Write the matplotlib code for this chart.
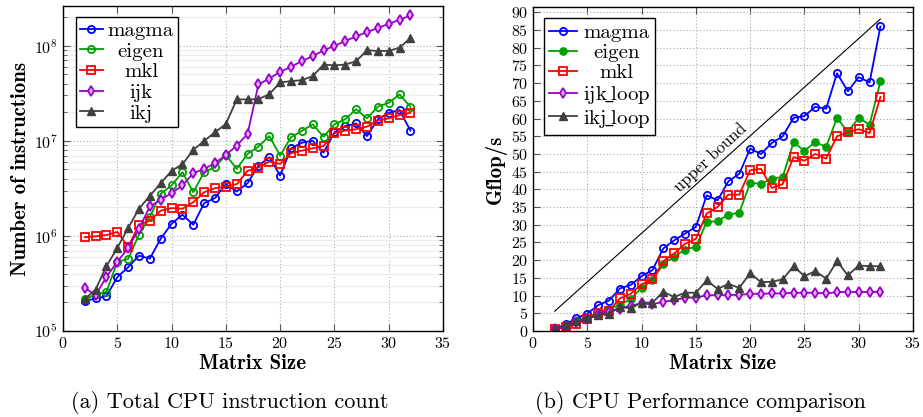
import matplotlib.pyplot as plt
import numpy as np
from matplotlib.ticker import LogLocator, MultipleLocator, NullFormatter

plt.rcParams['font.family'] = ['cmr10', 'DejaVu Serif']
plt.rcParams['mathtext.fontset'] = 'cm'
plt.rcParams['axes.formatter.use_mathtext'] = True
plt.rcParams['axes.unicode_minus'] = False

# datos
tamanos = list(range(2, 33))

# (a) instrucciones
inst_magma = [2.06e5, 2.2e5, 2.33e5, 3.68e5, 4.69e5, 6.2e5, 5.77e5, 9.35e5, 1.34e6, 1.67e6,
              1.31e6, 2.21e6, 2.5e6, 3.5e6, 2.93e6, 3.58e6, 5.48e6, 6.7e6, 4.31e6, 8.3e6,
              9.55e6, 1.0e7, 7.5e6, 1.23e7, 1.43e7, 1.52e7, 1.12e7, 1.68e7, 1.97e7, 2.1e7, 1.28e7]
inst_eigen = [2.15e5, 2.42e5, 2.58e5, 5.33e5, 5.73e5, 1.03e6, 1.58e6, 2.77e6, 3.39e6, 4.68e6,
              2.88e6, 4.68e6, 5.28e6, 7.1e6, 5.07e6, 7.27e6, 8.68e6, 1.12e7, 6.98e6, 1.09e7,
              1.27e7, 1.49e7, 1.1e7, 1.49e7, 1.69e7, 2.14e7, 1.72e7, 2.28e7, 2.51e7, 3.07e7, 2.28e7]
inst_mkl = [9.7e5, 9.9e5, 1.02e6, 1.1e6, 7.65e5, 1.31e6, 1.45e6, 1.84e6, 1.96e6, 1.93e6,
            2.26e6, 2.88e6, 3.17e6, 3.3e6, 3.5e6, 4.83e6, 5.23e6, 6.04e6, 5.71e6, 7.39e6,
            7.88e6, 8.34e6, 8.82e6, 1.2e7, 1.28e7, 1.32e7, 1.41e7, 1.63e7, 1.72e7, 1.86e7, 1.97e7]
inst_ijk = [2.85e5, 2.37e5, 3.71e5, 5.33e5, 7.47e5, 1.19e6, 2.04e6, 2.4e6, 2.82e6, 3.39e6,
            4.56e6, 5.07e6, 5.81e6, 7.1e6, 8.89e6, 1.18e7, 3.91e7, 4.51e7, 5.3e7, 5.98e7,
            6.91e7, 7.74e7, 8.94e7, 9.93e7, 1.12e8, 1.25e8, 1.39e8, 1.53e8, 1.7e8, 1.87e8, 2.08e8]
inst_ikj = [2.15e5, 2.73e5, 4.8e5, 7.47e5, 1.21e6, 1.93e6, 2.64e6, 3.58e6, 4.83e6, 5.67e6,
            8.02e6, 9.96e6, 1.23e7, 1.5e7, 2.72e7, 2.72e7, 2.74e7, 3.09e7, 4.1e7, 4.24e7,
            4.34e7, 4.78e7, 6.33e7, 6.2e7, 6.33e7, 6.86e7, 8.94e7, 8.8e7, 8.8e7, 9.53e7, 1.2e8]

# (b) rendimiento
gf_magma = [0.5, 1.9, 3.6, 4.9, 7.3, 8.6, 12.0, 13.0, 15.5, 17.2, 23.3, 25.6, 27.5, 29.4, 38.3, 36.9,
            42.3, 44.4, 51.5, 50.0, 53.1, 55.0, 60.2, 60.7, 63.3, 62.8, 72.8, 67.7, 71.7, 70.2, 86.0]
gf_eigen = [0.5, 1.6, 2.8, 3.9, 5.2, 6.3, 7.3, 9.1, 12.2, 14.3, 19.0, 20.9, 23.0, 23.8, 30.8, 31.0,
            32.9, 33.4, 41.8, 41.6, 43.0, 43.5, 53.3, 50.9, 53.3, 52.0, 60.2, 56.2, 60.2, 58.3, 70.5]
gf_mkl = [0.5, 1.1, 2.1, 3.3, 5.2, 5.6, 9.2, 10.5, 13.2, 14.6, 19.7, 21.9, 24.6, 26.0, 33.2, 35.0,
          38.5, 38.5, 45.4, 45.8, 40.4, 41.5, 49.1, 48.1, 50.0, 48.7, 55.0, 56.1, 57.0, 55.9, 66.1]
gf_ijk = [0.5, 1.2, 2.5, 3.3, 4.7, 5.5, 6.3, 7.2, 7.8, 7.5, 8.3, 8.7, 9.4, 9.4, 10.1, 10.1,
          10.2, 10.2, 10.5, 10.5, 10.6, 10.6, 10.8, 10.8, 10.8, 10.6, 11.0, 11.0, 11.0, 11.0, 11.1]
gf_ikj = [0.7, 1.7, 2.8, 3.6, 4.5, 4.9, 6.8, 6.4, 8.0, 8.0, 11.1, 9.6, 10.8, 10.8, 14.3, 11.9,
          13.3, 12.2, 16.3, 13.8, 13.9, 14.6, 18.3, 15.5, 16.9, 14.8, 19.7, 15.7, 18.5, 18.3, 18.3]

cota_x = [2, 32]
cota_y = [5.6, 88.1]

azul = '#0000ff'
verde = '#00a000'
rojo = '#ff0000'
morado = '#9900cc'
gris = '#404040'


def centrar_leyenda(fig, leg):
    fig.canvas.draw()
    rend = fig.canvas.get_renderer()
    textos = leg.get_texts()
    anchos = [t.get_window_extent(rend).width for t in textos]
    maximo = max(anchos)
    for t, w in zip(textos, anchos):
        t.set_position(((maximo - w) / 2.0, 0))


def estilo_ejes(ax):
    ax.tick_params(which='both', direction='in', top=True, right=True, labelsize=11.5,
                   color='#555555')
    ax.tick_params(which='major', length=5)
    ax.tick_params(which='minor', length=3)
    ax.set_xlim(0, 35)
    ax.xaxis.set_major_locator(MultipleLocator(5))
    ax.grid(True, which='major', linestyle=(0, (1, 2)), color='#aaaaaa', linewidth=0.8)
    ax.set_xlabel('Matrix Size', fontsize=15, fontfamily='cmb10', labelpad=2)
    for s in ax.spines.values():
        s.set_linewidth(1.0)
    ax.set_axisbelow(True)


fig = plt.figure(figsize=(9.23, 4.17), dpi=100)
ax1 = fig.add_axes([63 / 923, 1 - 331 / 417, 380 / 923, 325 / 417])
ax2 = fig.add_axes([533 / 923, 1 - 331 / 417, 380 / 923, 324 / 417])

lw = 1.3
ms = 5.2

# grafico (a)
ax1.set_yscale('log')
ax1.plot(tamanos, inst_magma, '-o', color=azul, mfc='none', mew=1.3, ms=ms, lw=lw, label='magma')
ax1.plot(tamanos, inst_eigen, '-o', color=verde, mfc='none', mew=1.3, ms=ms, lw=lw, label='eigen')
ax1.plot(tamanos, inst_mkl, '-s', color=rojo, mfc='none', mew=1.3, ms=ms, lw=lw, label='mkl')
ax1.plot(tamanos, inst_ijk, '-d', color=morado, mfc='#e0b0f0', mew=1.3, ms=ms, lw=lw, label='ijk')
ax1.plot(tamanos, inst_ikj, '-^', color=gris, mfc=gris, mew=1.0, ms=ms, lw=lw, label='ikj')
estilo_ejes(ax1)
ax1.set_ylim(1e5, 10 ** 8.417)
ax1.yaxis.set_major_locator(LogLocator(base=10, numticks=10))
ax1.yaxis.set_minor_locator(LogLocator(base=10, subs=np.arange(2, 10), numticks=20))
ax1.yaxis.set_minor_formatter(NullFormatter())
ax1.grid(True, which='minor', axis='y', linestyle='-', color='#ececec', linewidth=0.8)
ax1.set_ylabel('Number of instructions', fontsize=15, fontfamily='cmb10', labelpad=3)
leg1 = ax1.legend(loc='upper left', bbox_to_anchor=(0.033, 0.965), fontsize=15,
                  fancybox=False, edgecolor='black', framealpha=1, borderpad=0.2,
                  labelspacing=0.1, handlelength=1.1, handletextpad=0.25, borderaxespad=0)
leg1.get_frame().set_linewidth(1.0)

# grafico (b)
ax2.plot(tamanos, gf_magma, '-o', color=azul, mfc='none', mew=1.3, ms=ms, lw=lw, label='magma')
ax2.plot(tamanos, gf_eigen, '-o', color=verde, mfc=verde, mew=1.0, ms=ms, lw=lw, label='eigen')
ax2.plot(tamanos, gf_mkl, '-s', color=rojo, mfc='none', mew=1.3, ms=ms, lw=lw, label='mkl')
ax2.plot(tamanos, gf_ijk, '-d', color=morado, mfc='#e0b0f0', mew=1.3, ms=ms, lw=lw,
         label=r'ijk$\!\_\!$loop')
ax2.plot(tamanos, gf_ikj, '-^', color=gris, mfc=gris, mew=1.0, ms=ms, lw=lw,
         label=r'ikj$\!\_\!$loop')
ax2.plot(cota_x, cota_y, color='black', lw=0.8)
ax2.text(16.3, 49.0, 'upper bound', rotation=43, fontsize=12, ha='center', va='center',
         rotation_mode='anchor')
estilo_ejes(ax2)
ax2.set_ylim(0, 91.5)
ax2.yaxis.set_major_locator(MultipleLocator(5))
ax2.set_ylabel('Gflop/s', fontsize=15, fontfamily='cmb10', labelpad=3)
leg2 = ax2.legend(loc='upper left', bbox_to_anchor=(0.029, 0.966), fontsize=15,
                  fancybox=False, edgecolor='black', framealpha=1, borderpad=0.25,
                  labelspacing=0.08, handlelength=1.35, handletextpad=0.25, borderaxespad=0)
leg2.get_frame().set_linewidth(1.0)

fig.text(230 / 923, 1 - 402 / 417, '(a) Total CPU instruction count', fontsize=16,
         ha='center', va='center')
fig.text(700 / 923, 1 - 402 / 417, '(b) CPU Performance comparison', fontsize=16,
         ha='center', va='center')

centrar_leyenda(fig, leg1)
centrar_leyenda(fig, leg2)

plt.savefig('out.png', dpi=100)
